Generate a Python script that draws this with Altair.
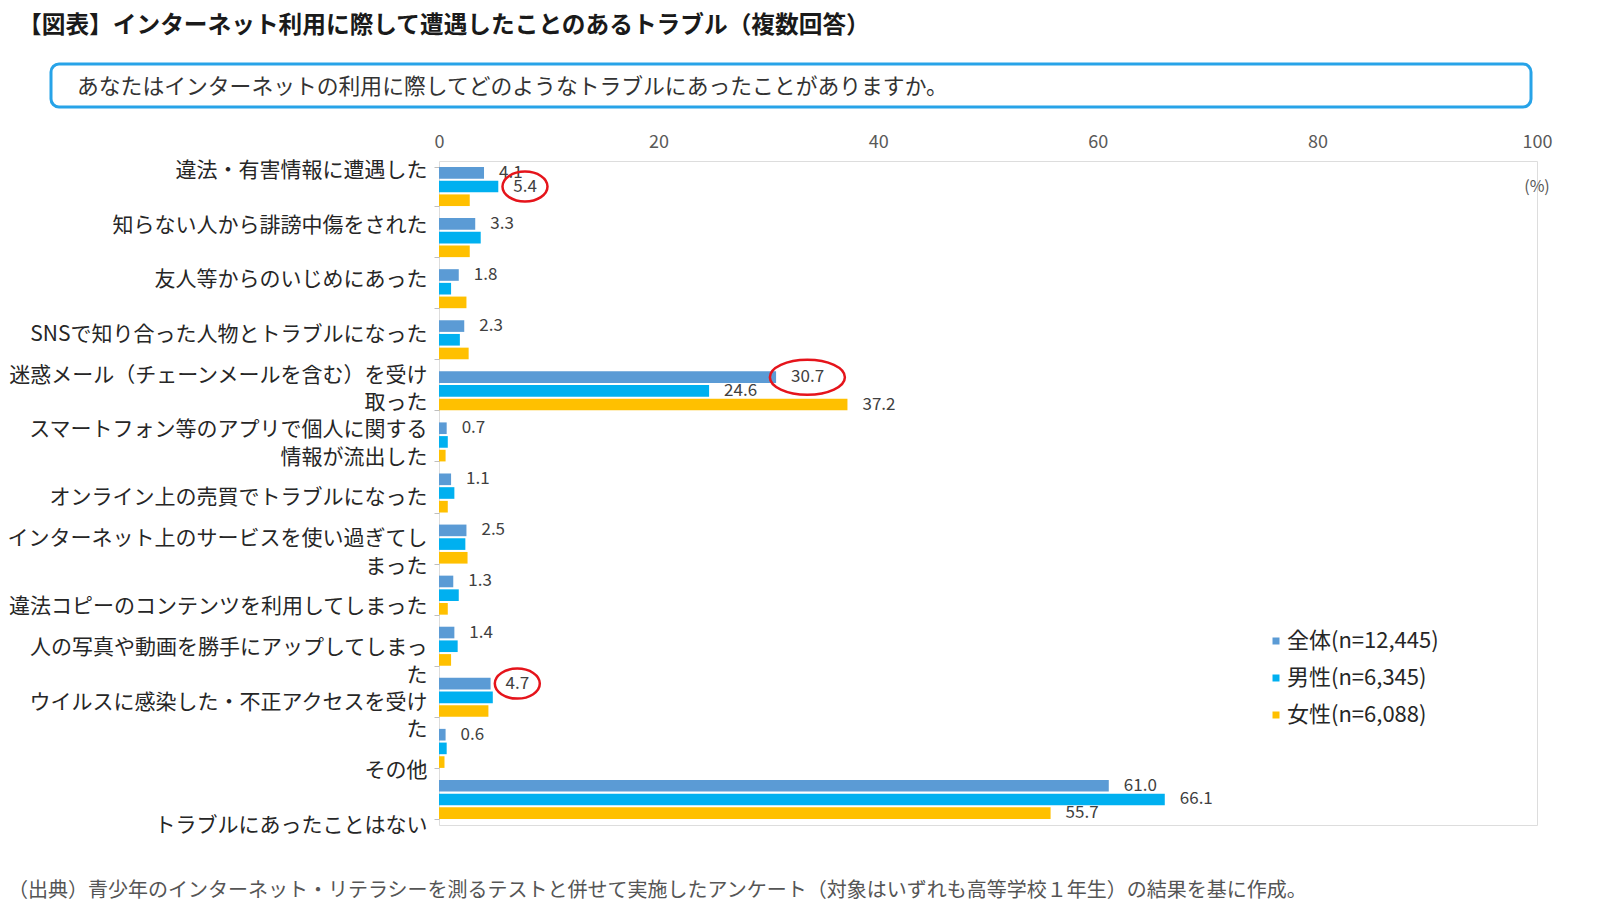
import altair as alt
import pandas as pd

categories = [
    "違法・有害情報に遭遇した",
    "知らない人から誹謗中傷をされた",
    "友人等からのいじめにあった",
    "SNSで知り合った人物とトラブルになった",
    "迷惑メール（チェーンメールを含む）を受け\n取った",
    "スマートフォン等のアプリで個人に関する\n情報が流出した",
    "オンライン上の売買でトラブルになった",
    "インターネット上のサービスを使い過ぎてし\nまった",
    "違法コピーのコンテンツを利用してしまった",
    "人の写真や動画を勝手にアップしてしまっ\nた",
    "ウイルスに感染した・不正アクセスを受け\nた",
    "その他",
    "トラブルにあったことはない",
]
series = ["全体(n=12,445)", "男性(n=6,345)", "女性(n=6,088)"]
overall = [4.1, 3.3, 1.8, 2.3, 30.7, 0.7, 1.1, 2.5, 1.3, 1.4, 4.7, 0.6, 61.0]
male = [5.4, 3.8, 1.1, 1.9, 24.6, 0.8, 1.4, 2.4, 1.8, 1.7, 4.9, 0.7, 66.1]
female = [2.8, 2.8, 2.5, 2.7, 37.2, 0.6, 0.8, 2.6, 0.8, 1.1, 4.5, 0.5, 55.7]

# which bars carry a value label (series index -> category indices)
labeled = {0: list(range(13)), 1: [0, 4, 12], 2: [4, 12]}
# which labels are circled in red (series index, category index)
circled = [(1, 0), (0, 4), (0, 10)]

title_text = "【図表】インターネット利用に際して遭遇したことのあるトラブル（複数回答）"
question_text = "あなたはインターネットの利用に際してどのようなトラブルにあったことがありますか。"
source_text = "（出典）青少年のインターネット・リテラシーを測るテストと併せて実施したアンケート（対象はいずれも高等学校１年生）の結果を基に作成。"
unit_text = "(%)"

colors = ["#5B9BD5", "#00B0F0", "#FFC000"]
FONT = "Noto Sans CJK JP"

rows = []
for si, vals in enumerate([overall, male, female]):
    for ci, v in enumerate(vals):
        rows.append({
            "category": categories[ci],
            "series": series[si],
            "value": v,
            "label": f"{v:.1f}" if ci in labeled[si] else "",
            "circled": (si, ci) in circled,
        })
df = pd.DataFrame(rows)

x_enc = alt.X(
    "value:Q",
    scale=alt.Scale(domain=[0, 100], nice=False),
    axis=alt.Axis(orient="top", values=[0, 20, 40, 60, 80, 100], title=None,
                  domain=False, ticks=False, grid=False, labelFontSize=18,
                  labelColor="#595959", labelPadding=10, labelFlush=False,
                  labelFont=FONT),
)
band = alt.Scale(domain=categories, paddingInner=0.236, paddingOuter=0.118)
y_bar = alt.Y("category:N", sort=categories, scale=band,
              axis=alt.Axis(labels=False, domain=False, ticks=True, tickBand="extent",
                            tickColor="#BFBFBF", tickSize=5, title=None, grid=False))
y_none = alt.Y("category:N", sort=categories, scale=band, axis=None)
y_off = alt.YOffset("series:N", sort=series, scale=alt.Scale(domain=series, paddingInner=0.15))

base = alt.Chart(df)

bars = base.mark_bar().encode(
    x=x_enc, y=y_bar, yOffset=y_off,
    color=alt.Color("series:N", sort=series,
                    scale=alt.Scale(domain=series, range=colors),
                    legend=alt.Legend(title=None, orient="none", legendX=826, legendY=469,
                                      symbolType="square", symbolSize=49,
                                      labelFontSize=22, labelColor="#262626", labelFont=FONT,
                                      rowPadding=15, labelOffset=0, padding=0,
                                      symbolStrokeWidth=0)),
)

value_text = base.transform_filter("datum.label != ''").mark_text(
    align="left", baseline="middle", dx=15, fontSize=17, color="#404040", font=FONT
).encode(x=alt.X("value:Q"), y=y_none, yOffset=y_off, text="label:N")

ell3 = "M -1 0 A 1 0.667 0 1 1 1 0 A 1 0.667 0 1 1 -1 0 Z"
ell4 = "M -1 0 A 1 0.467 0 1 1 1 0 A 1 0.467 0 1 1 -1 0 Z"
circ3 = base.transform_filter("datum.circled && length(datum.label) == 3").mark_point(
    shape=ell3, size=2025, filled=False, color="#E5141B", strokeWidth=2.5, opacity=1,
    xOffset=26.7
).encode(x=alt.X("value:Q"), y=y_none, yOffset=y_off)
circ4 = base.transform_filter("datum.circled && length(datum.label) == 4").mark_point(
    shape=ell4, size=5625, filled=False, color="#E5141B", strokeWidth=2.5, opacity=1,
    xOffset=31.3
).encode(x=alt.X("value:Q"), y=y_none, yOffset=y_off)

# category labels axis (as drawn in the reference, spaced slightly differently from bars)
cat_df = pd.DataFrame({"category": categories})
cat_axis = alt.Chart(cat_df).mark_point(opacity=0).encode(
    y=alt.Y("category:N", sort=categories,
            scale=alt.Scale(type="point", domain=categories, padding=0.09, align=1),
            axis=alt.Axis(orient="left", title=None, domain=False, ticks=False, grid=False,
                          labelFontSize=21, labelColor="#262626", labelFont=FONT,
                          labelPadding=12, labelLimit=0, labelLineHeight=27.5,
                          labelOffset={"condition": {"test": "indexof(datum.value, '\\n') >= 0",
                                                     "value": -13.75},
                                       "value": 0},
                          labelExpr="split(datum.label, '\\n')")),
)

one = pd.DataFrame({"t": [0]})
title_mark = alt.Chart(pd.DataFrame({"t": [title_text]})).mark_text(
    align="left", baseline="middle", fontSize=23.7, fontWeight="bold", color="#1a1a1a", font=FONT
).encode(x=alt.value(-421), y=alt.value(-135), text="t:N")
box = alt.Chart(one).mark_rect(
    cornerRadius=8, fill="white", stroke="#27A3E8", strokeWidth=3
).encode(x=alt.value(-388), x2=alt.value(1092), y=alt.value(-97), y2=alt.value(-54))
question = alt.Chart(pd.DataFrame({"t": [question_text]})).mark_text(
    align="left", baseline="middle", fontSize=21.8, color="#333333", font=FONT
).encode(x=alt.value(-362), y=alt.value(-74), text="t:N")
source = alt.Chart(pd.DataFrame({"t": [source_text]})).mark_text(
    align="left", baseline="middle", fontSize=20, color="#555555", font=FONT
).encode(x=alt.value(-431), y=alt.value(730), text="t:N")
unit = alt.Chart(pd.DataFrame({"t": [unit_text]})).mark_text(
    align="center", baseline="middle", fontSize=16, color="#595959", font=FONT
).encode(x=alt.value(1098), y=alt.value(26), text="t:N")

chart = alt.layer(
    bars, value_text, circ3, circ4, cat_axis, box, question, title_mark, source, unit
).resolve_scale(y="independent").properties(
    width=1098, height=664,
    autosize=alt.AutoSizeParams(type="none"),
    padding={"left": 431, "top": 153, "right": 55, "bottom": 79},
).configure_view(stroke="#BFBFBF", strokeWidth=1.5).configure(font=FONT)

chart.save("out.html", embed_options={"renderer": "svg", "actions": False})
